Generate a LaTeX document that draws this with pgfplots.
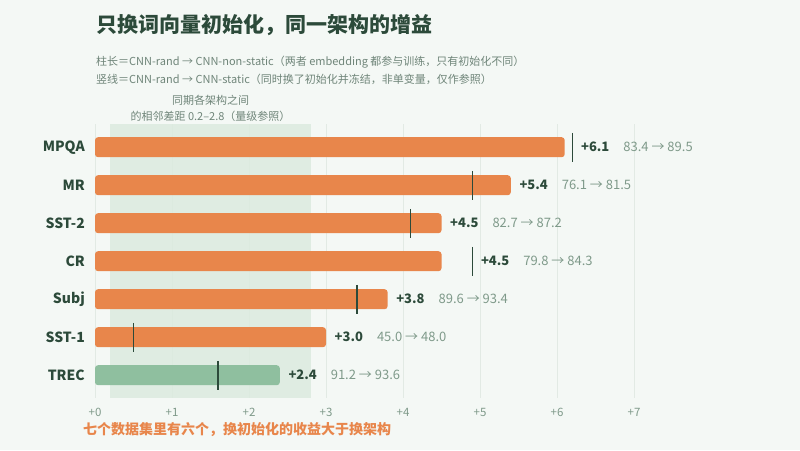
\documentclass[border=0pt]{standalone}
\usepackage{pgfplots}
\pgfplotsset{compat=1.18}
\usepackage{fontspec}
\setmainfont{Noto Sans CJK SC}
\definecolor{bg}{HTML}{F4F8F5}
\definecolor{barorange}{HTML}{E8864B}
\definecolor{bargreen}{HTML}{8FBF9F}
\definecolor{band}{HTML}{DCEADF}
\definecolor{darkc}{HTML}{2C4A3A}
\definecolor{subc}{HTML}{6F8579}
\definecolor{softc}{HTML}{7F9A8A}
\definecolor{gridc}{HTML}{E2EAE4}
\begin{document}
\begin{tikzpicture}[x=1pt,y=1pt]
\fill[bg] (0,0) rectangle (800,-450);
\path[use as bounding box] (0,0) rectangle (800,-450);
\node[anchor=west, inner sep=0, text=darkc, font=\fontsize{21}{25}\selectfont\bfseries] at (96,-25) {只换词向量初始化，同一架构的增益};
\node[anchor=west, inner sep=0, text=subc, font=\fontsize{11}{13}\selectfont] at (96,-62) {柱长＝CNN-rand → CNN-non-static（两者 embedding 都参与训练，只有初始化不同）};
\node[anchor=west, inner sep=0, text=subc, font=\fontsize{11}{13}\selectfont] at (96,-79) {竖线＝CNN-rand → CNN-static（同时换了初始化并冻结，非单变量，仅作参照）};
\node[anchor=center, inner sep=0, text=subc, font=\fontsize{11}{13}\selectfont] at (210.5,-100) {同期各架构之间};
\node[anchor=center, inner sep=0, text=subc, font=\fontsize{11}{13}\selectfont] at (210.5,-116) {的相邻差距 0.2–2.8（量级参照）};
\node[anchor=west, inner sep=0, text=barorange, font=\fontsize{14}{16}\selectfont\bfseries] at (83,-430) {七个数据集里有六个，换初始化的收益大于换架构};
\begin{axis}[
  at={(95pt,-398pt)}, anchor=south west,
  scale only axis, width=539pt, height=273.6pt,
  xmin=0, xmax=7, ymin=-0.6, ymax=6.6, y dir=reverse,
  clip=false,
  axis line style={draw=none},
  major tick length=0pt,
  xtick={0,1,2,3,4,5,6,7},
  xticklabels={+0,+1,+2,+3,+4,+5,+6,+7},
  ytick={0,1,2,3,4,5,6},
  yticklabels={MPQA,MR,SST-2,CR,Subj,SST-1,TREC},
  xmajorgrids, ymajorgrids=false,
  grid style={draw=gridc, line width=0.8pt},
  xticklabel style={inner sep=0pt, yshift=-10pt, text=softc, font=\fontsize{11.5}{13}\selectfont},
  yticklabel style={inner sep=0pt, xshift=-10pt, text=darkc, font=\fontsize{14}{16}\selectfont\bfseries},
  /pgf/number format/assume math mode=true,
]
\addplot[fill=band, draw=none, fill opacity=0.85] coordinates {(0.2,-0.6) (2.8,-0.6) (2.8,6.6) (0.2,6.6)} -- cycle;
% bars: value, category row (half height 0.263 = 10px)
\addplot[fill=barorange, draw=none, rounded corners=3pt] coordinates {(0,-0.263) (6.1,-0.263) (6.1,0.263) (0,0.263)} -- cycle;
\addplot[fill=barorange, draw=none, rounded corners=3pt] coordinates {(0,0.737) (5.4,0.737) (5.4,1.263) (0,1.263)} -- cycle;
\addplot[fill=barorange, draw=none, rounded corners=3pt] coordinates {(0,1.737) (4.5,1.737) (4.5,2.263) (0,2.263)} -- cycle;
\addplot[fill=barorange, draw=none, rounded corners=3pt] coordinates {(0,2.737) (4.5,2.737) (4.5,3.263) (0,3.263)} -- cycle;
\addplot[fill=barorange, draw=none, rounded corners=3pt] coordinates {(0,3.737) (3.8,3.737) (3.8,4.263) (0,4.263)} -- cycle;
\addplot[fill=barorange, draw=none, rounded corners=3pt] coordinates {(0,4.737) (3.0,4.737) (3.0,5.263) (0,5.263)} -- cycle;
\addplot[fill=bargreen, draw=none, rounded corners=3pt] coordinates {(0,5.737) (2.4,5.737) (2.4,6.263) (0,6.263)} -- cycle;
% CNN-static gain markers
\addplot[darkc, line width=1.5pt] coordinates {(6.2,-0.38) (6.2,0.38)};
\addplot[darkc, line width=1.5pt] coordinates {(4.9,0.62) (4.9,1.38)};
\addplot[darkc, line width=1.5pt] coordinates {(4.1,1.62) (4.1,2.38)};
\addplot[darkc, line width=1.5pt] coordinates {(4.9,2.62) (4.9,3.38)};
\addplot[darkc, line width=1.5pt] coordinates {(3.4,3.62) (3.4,4.38)};
\addplot[darkc, line width=1.5pt] coordinates {(0.5,4.62) (0.5,5.38)};
\addplot[darkc, line width=1.5pt] coordinates {(1.6,5.62) (1.6,6.38)};
\tikzset{lab/.style={anchor=west, inner sep=0pt, xshift=8.5pt, text=darkc, font=\fontsize{13}{15}\selectfont}}
\node[lab] at (axis cs:6.2,0) {\textbf{+6.1}\hspace{14pt}{\color{softc}83.4 → 89.5}};
\node[lab] at (axis cs:5.4,1) {\textbf{+5.4}\hspace{14pt}{\color{softc}76.1 → 81.5}};
\node[lab] at (axis cs:4.5,2) {\textbf{+4.5}\hspace{14pt}{\color{softc}82.7 → 87.2}};
\node[lab] at (axis cs:4.9,3) {\textbf{+4.5}\hspace{14pt}{\color{softc}79.8 → 84.3}};
\node[lab] at (axis cs:3.8,4) {\textbf{+3.8}\hspace{14pt}{\color{softc}89.6 → 93.4}};
\node[lab] at (axis cs:3.0,5) {\textbf{+3.0}\hspace{14pt}{\color{softc}45.0 → 48.0}};
\node[lab] at (axis cs:2.4,6) {\textbf{+2.4}\hspace{14pt}{\color{softc}91.2 → 93.6}};
\end{axis}
\end{tikzpicture}
\end{document}
